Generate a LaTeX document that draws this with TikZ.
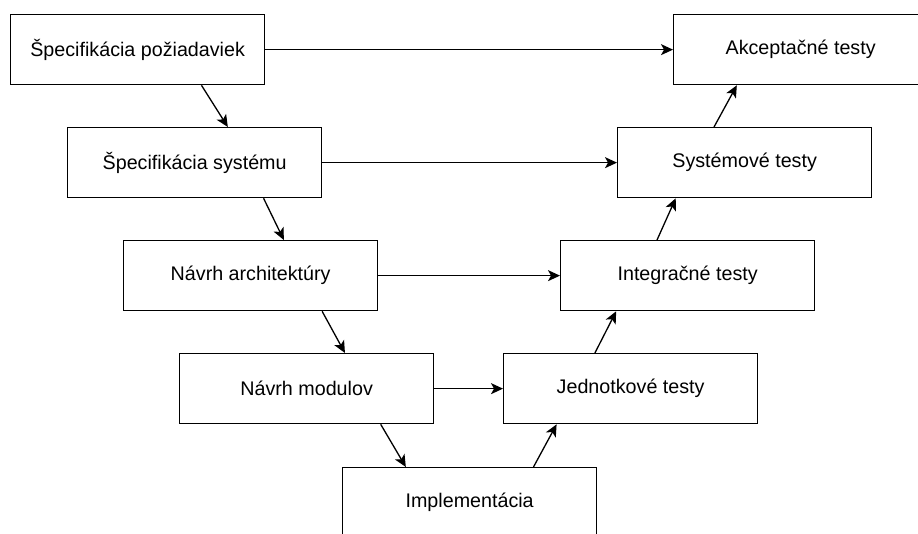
\documentclass[tikz,border=0pt]{standalone}
\usepackage{fontspec}
\setmainfont{Liberation Sans}
\usetikzlibrary{arrows.meta,calc}
\begin{document}
\begin{tikzpicture}[x=1pt,y=-1pt,
  stage/.style={draw=black, line width=1.3pt, fill=white, rectangle,
    minimum width=254pt, minimum height=70pt, inner sep=0pt, anchor=north west,
    font=\fontsize{19.7}{24}\selectfont},
  flow/.style={line width=1.3pt, -{Stealth[length=12pt,width=11pt,inset=3pt]}}]
\useasboundingbox (0,0) rectangle (918,534);
\clip (0,0) rectangle (918,534);
% left branch: specification and design
\node[stage] (req)  at (10,14)   {Špecifikácia požiadaviek};
\node[stage] (sys)  at (67,127)  {Špecifikácia systému};
\node[stage] (arch) at (123,240) {Návrh architektúry};
\node[stage] (mod)  at (179,353) {Návrh modulov};
\node[stage] (impl) at (342,467) {Implementácia};
% right branch: testing
\node[stage] (acc)  at (673,14)  {Akceptačné testy};
\node[stage] (syst) at (617,127) {Systémové testy};
\node[stage] (intt) at (560,240) {Integračné testy};
\node[stage] (unit) at (503,353) {Jednotkové testy};
% horizontal links between matching levels
\draw[flow] (req.east)  -- (acc.west);
\draw[flow] (sys.east)  -- (syst.west);
\draw[flow] (arch.east) -- (intt.west);
\draw[flow] (mod.east)  -- (unit.west);
% descending steps
\draw[flow] ($(req.south west)!0.75!(req.south east)$)   -- ($(sys.north west)!0.63!(sys.north east)$);
\draw[flow] ($(sys.south west)!0.77!(sys.south east)$)   -- ($(arch.north west)!0.63!(arch.north east)$);
\draw[flow] ($(arch.south west)!0.78!(arch.south east)$) -- ($(mod.north west)!0.65!(mod.north east)$);
\draw[flow] ($(mod.south west)!0.79!(mod.south east)$)   -- ($(impl.north west)!0.25!(impl.north east)$);
% ascending steps
\draw[flow] ($(impl.north west)!0.75!(impl.north east)$) -- ($(unit.south west)!0.21!(unit.south east)$);
\draw[flow] ($(unit.north west)!0.36!(unit.north east)$) -- ($(intt.south west)!0.22!(intt.south east)$);
\draw[flow] ($(intt.north west)!0.38!(intt.north east)$) -- ($(syst.south west)!0.23!(syst.south east)$);
\draw[flow] ($(syst.north west)!0.38!(syst.north east)$) -- ($(acc.south west)!0.25!(acc.south east)$);
\end{tikzpicture}
\end{document}
